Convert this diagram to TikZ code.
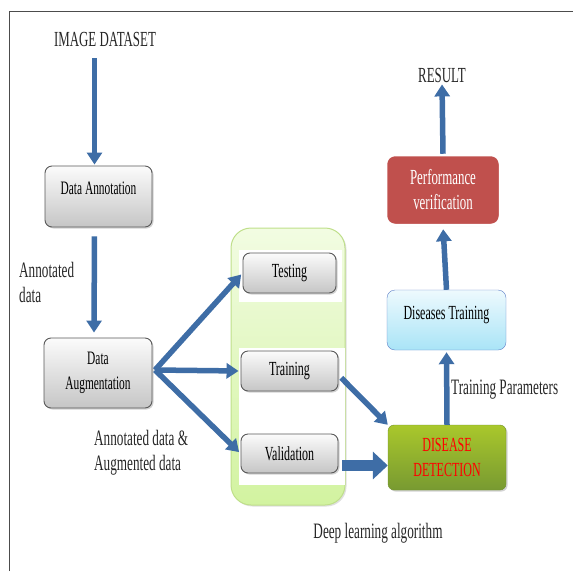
\documentclass[tikz,border=0pt]{standalone}
\usepackage{fontspec}
\setmainfont[FakeStretch=0.6]{Liberation Serif}
\usetikzlibrary{arrows.meta, positioning, shadows}
\usepackage{xcolor}
\definecolor{arrowblue}{HTML}{3E6DA6}
\definecolor{pvred}{HTML}{C0504D}
\definecolor{ddgreen}{HTML}{8DB53A}
\definecolor{dtcyan}{HTML}{A9E4F7}
\definecolor{dltop}{HTML}{F2FCE2}
\definecolor{dlbottom}{HTML}{D2F3A0}
\definecolor{dlborder}{HTML}{BFDF8A}

\begin{document}
\begin{tikzpicture}[
x=1pt, y=-1pt,
greybox/.style={draw=black!65,
rounded corners=7pt,
top color=gray!3,
bottom color=gray!45,
line width=0.9pt,
drop shadow={shadow xshift=1.5pt, shadow yshift=-1.5pt, opacity=0.35},
align=center,
inner sep=0pt,
font=\fontsize{19}{25}\selectfont},
lbl/.style={align=left, inner sep=0pt, text=black!85, font=\fontsize{22}{25}\selectfont},
arrow/.style={-{Triangle[length=12pt, width=15pt]}, line width=5.5pt, draw=arrowblue},
fatarrow/.style={-{Triangle[length=15pt, width=27pt]}, line width=11pt, draw=arrowblue}
]

\useasboundingbox (0,0) rectangle (573,571);
\draw[black!70, line width=1.3pt] (9.5,571) -- (9.5,11.5) -- (573,11.5);

% deep learning container
\node[draw=dlborder, line width=1pt, rounded corners=20pt,
top color=dltop, bottom color=dlbottom,
drop shadow={shadow xshift=1.5pt, shadow yshift=-1.5pt, opacity=0.25},
minimum width=114pt, minimum height=277pt] (dl) at (288,366.5) {};
\fill[white] (239,250) rectangle (342,302);
\fill[white] (239,348) rectangle (345,485);

\node[lbl, font=\fontsize{21.5}{25}\selectfont] (ds) at (105,39) {IMAGE DATASET};
\node[greybox, minimum width=107pt, minimum height=61pt, text depth=16pt] (ann) at (98.5,196.5) {Data Annotation};
\node[greybox, minimum width=108pt, minimum height=70pt] (aug) at (98,373) {Data\\Augmentation};
\node[lbl, anchor=west] (annlbl) at (19,282.5) {Annotated\\data};
\node[lbl, anchor=west] (auglbl) at (94,452.5) {Annotated data \&\\Augmented data};

\node[greybox, minimum width=93pt, minimum height=40pt, font=\fontsize{20}{25}\selectfont] (test) at (289.5,273) {Testing};
\node[greybox, minimum width=97pt, minimum height=40pt, font=\fontsize{20}{25}\selectfont] (train) at (289.5,371) {Training};
\node[greybox, minimum width=97pt, minimum height=39pt, font=\fontsize{20}{25}\selectfont] (valid) at (289.5,453.5) {Validation};
\node[lbl] (dla) at (378,533) {Deep learning algorithm};

\node[draw=ddgreen!80!black, rounded corners=6pt, top color=ddgreen!75!yellow, bottom color=ddgreen!85!black,
drop shadow={shadow xshift=1.5pt, shadow yshift=-1.5pt, opacity=0.35},
minimum width=118pt, minimum height=65pt, align=center, inner sep=0pt,
text=red, font=\fontsize{20}{25}\selectfont] (dd) at (447,457.5) {DISEASE\\DETECTION};
\node[lbl, anchor=west] (tp) at (451,390) {Training Parameters};

\node[draw=dtcyan!70!blue!80!black, rounded corners=8pt, top color=dtcyan!20, bottom color=dtcyan,
minimum width=119pt, minimum height=60pt, text depth=14pt, inner sep=0pt,
font=\fontsize{20}{25}\selectfont] (dt) at (446.5,320) {Diseases Training};

\node[draw=white, line width=2.5pt, rounded corners=9pt, fill=pvred,
drop shadow={shadow xshift=0pt, shadow yshift=-1pt, opacity=0.2},
minimum width=114pt, minimum height=70pt, align=center, inner sep=0pt,
text=white, font=\fontsize{21.5}{25}\selectfont] (pv) at (443,190) {Performance\\verification};
\node[lbl, font=\fontsize{21.5}{25}\selectfont] (res) at (442,75) {RESULT};

\coordinate (fan) at (155,370);
\coordinate (vout) at ([yshift=-12pt]valid.east);

\draw[arrow, shorten <=12pt, shorten >=1pt] ([xshift=-4pt]ds.south -| ann.north) -- ([xshift=-4pt]ann.north);
\draw[arrow, shorten <=9pt, shorten >=5pt] ([xshift=-4pt]ann.south) -- ([xshift=-4pt]aug.north);
\draw[arrow, shorten >=2pt] (fan) -- (test.west);
\draw[arrow, shorten >=2pt] (fan) -- (train.west);
\draw[arrow, shorten >=2pt] (fan) -- (valid.west);
\draw[arrow, shorten <=4pt] ([yshift=-4pt]train.east) -- (dd.north west);
\draw[fatarrow, shorten <=4pt] (vout) -- (dd.west |- vout);
\draw[arrow, shorten >=2pt] (dd.north) -- (dt.south);
\draw[arrow, shorten >=3pt] (dt.north) -- (pv.south);
\draw[arrow, shorten >=2pt] (pv.north) -- (res.south);

\end{tikzpicture}
\end{document}
